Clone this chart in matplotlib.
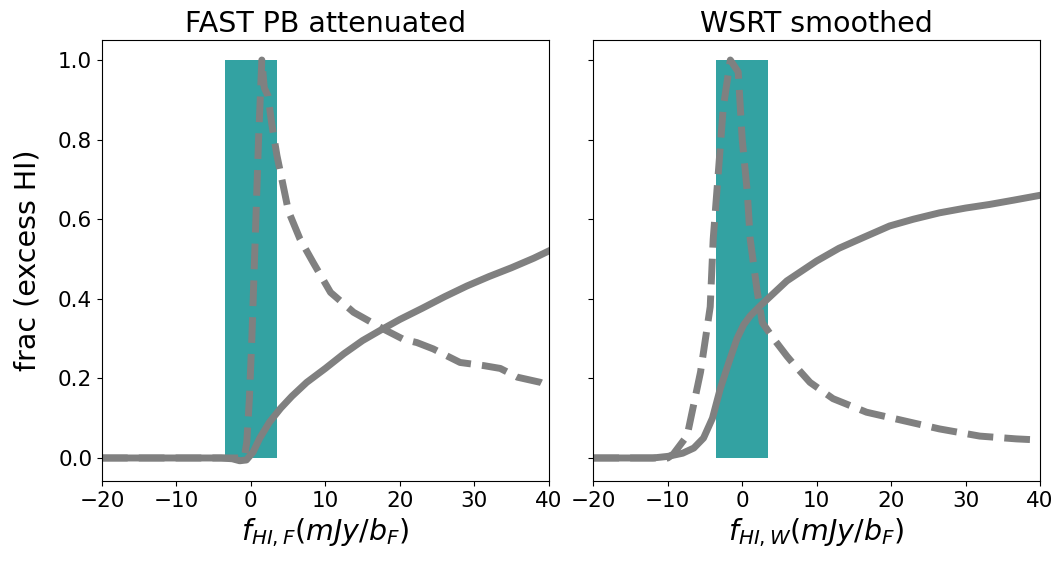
import numpy as np
import matplotlib
matplotlib.use('Agg')
import matplotlib.pyplot as plt

# FAST PB attenuated panel
fast_x_solid = [-20, -10, -4, -2.5, -1.5, -0.6, 0.3, 1.2, 2.5, 4, 5.5, 7.5, 10, 12.5, 15, 17.5, 20, 23, 26, 29, 32, 35, 38, 40]
fast_y_solid = [0, 0, 0, -0.002, -0.007, -0.005, 0.015, 0.05, 0.09, 0.125, 0.155, 0.19, 0.225, 0.262, 0.295, 0.322, 0.348, 0.376, 0.405, 0.432, 0.456, 0.478, 0.502, 0.52]

fast_x_dash = [-20, -10, -2, -0.9, -0.55, -0.2, 0.13, 0.58, 1.03, 1.47, 1.8, 2.3, 2.8, 3.5, 5.05, 6.6, 8.4, 10.7, 13.8, 17.8, 20.5, 22.3, 24.5, 26.5, 28.1, 31.3, 33.5, 35.8, 38.9, 40]
fast_y_dash = [0, 0, 0, 0.0, 0.04, 0.15, 0.3, 0.55, 0.8, 1.0, 0.93, 0.91, 0.84, 0.76, 0.62, 0.55, 0.49, 0.416, 0.366, 0.324, 0.298, 0.29, 0.274, 0.255, 0.24, 0.232, 0.225, 0.203, 0.19, 0.18]

# WSRT smoothed panel
wsrt_x_solid = [-20, -12, -10, -8, -6.5, -5.2, -4, -2.95, -1.8, -0.7, 0.2, 1.07, 2.4, 4, 6, 8, 10, 13, 16.5, 19.8, 23, 26.5, 30, 33.2, 36.5, 40]
wsrt_y_solid = [0, 0, 0.004, 0.012, 0.025, 0.05, 0.1, 0.174, 0.24, 0.3, 0.335, 0.357, 0.382, 0.41, 0.445, 0.47, 0.495, 0.527, 0.556, 0.583, 0.6, 0.616, 0.628, 0.637, 0.648, 0.66]

wsrt_x_dash = [-20, -12, -10, -9.25, -7.4, -5.6, -4.3, -3.9, -3.2, -2.55, -1.6, -0.54, 0.0, 0.67, 1.07, 2.0, 2.7, 4.2, 6.0, 6.9, 9.1, 12.2, 16.7, 21.6, 26.5, 31.9, 36.8, 40]
wsrt_y_dash = [0, 0, 0.0, 0.01, 0.056, 0.216, 0.38, 0.55, 0.72, 0.88, 1.0, 0.97, 0.8, 0.67, 0.55, 0.42, 0.34, 0.3, 0.256, 0.236, 0.19, 0.149, 0.115, 0.094, 0.073, 0.055, 0.048, 0.045]

# excess window
win_center = 0
win_width = 7
win_height = 1.0

fig, axes = plt.subplots(1, 2, figsize=(10.58, 5.63), dpi=100, sharey=True)
plt.subplots_adjust(left=0.0964, right=0.983, bottom=0.146, top=0.929, wspace=0.1)

panels = [
    (axes[0], 'FAST PB attenuated', fast_x_solid, fast_y_solid, fast_x_dash, fast_y_dash, r'$f_{HI,F} (mJy/b_F)$'),
    (axes[1], 'WSRT smoothed', wsrt_x_solid, wsrt_y_solid, wsrt_x_dash, wsrt_y_dash, r'$f_{HI,W} (mJy/b_F)$'),
]

for ax, title, xs, ys, xd, yd, xlab in panels:
    ax.bar(win_center, win_height, width=win_width, color='darkcyan', alpha=0.8, zorder=1)
    ax.plot(xs, ys, color='gray', lw=5, zorder=2)
    ax.plot(xd, yd, color='gray', lw=5, ls='--', zorder=2)
    ax.set_xlim(-20, 40)
    ax.set_title(title, fontsize=20.5)
    ax.set_xlabel(xlab, fontsize=20.5)
    ax.tick_params(labelsize=15.5)

axes[0].set_ylabel('frac (excess HI)', fontsize=20.5, labelpad=12)
axes[0].set_yticks([0.0, 0.2, 0.4, 0.6, 0.8, 1.0])

fig.savefig('out.png', dpi=100)
